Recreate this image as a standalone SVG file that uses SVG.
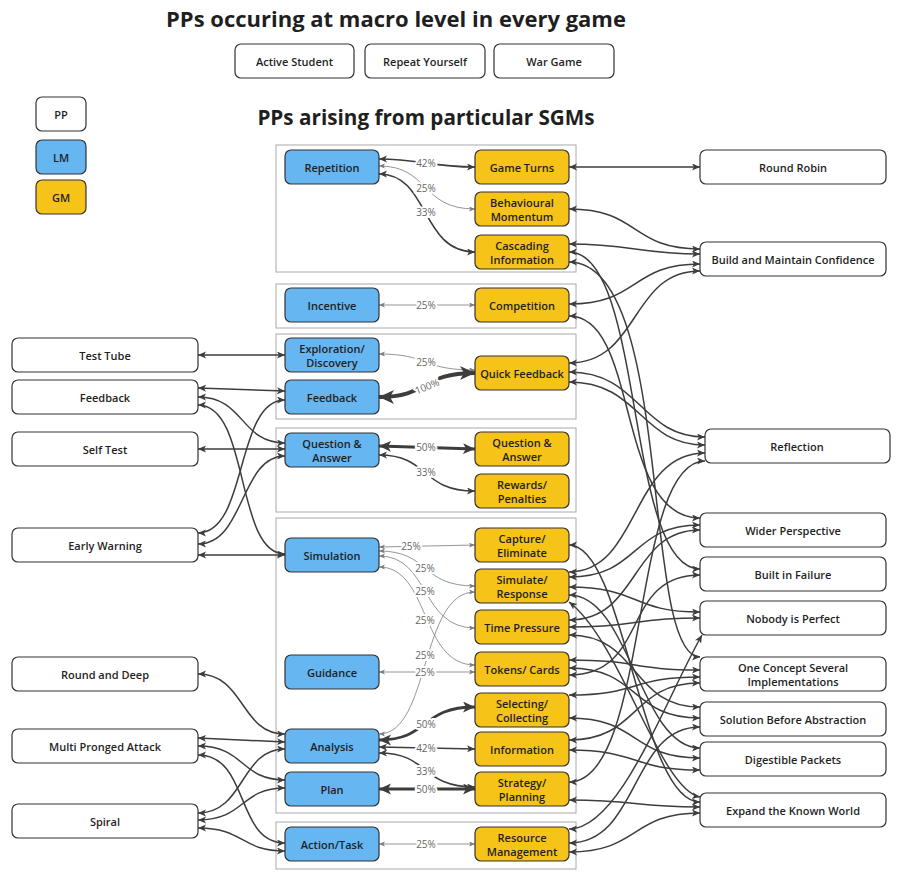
<svg xmlns="http://www.w3.org/2000/svg" width="899" height="881" viewBox="0 0 899 881">
<defs>
<style>
text{font-family:"Open Sans","Noto Sans","Liberation Sans",sans-serif;font-weight:600;fill:#1f1f1f;text-anchor:middle;dominant-baseline:central}
.ttl{font-size:22px;font-weight:700}
.ttl2{font-size:20.7px;font-weight:700}
.n{font-size:11px}
.pp{fill:#fff;stroke:#333;stroke-width:1.2}
.lm{fill:#66b6f2;stroke:#333;stroke-width:1.2}
.gm{fill:#f6c318;stroke:#333;stroke-width:1.2}
.grp{fill:none;stroke:#aaa;stroke-width:1}
.c{fill:none;stroke:#3d3d3d;stroke-width:1.5;marker-start:url(#ad);marker-end:url(#ad)}
.t{fill:none;stroke:#7a7a7a;stroke-width:0.8;marker-start:url(#at);marker-end:url(#at)}
.m{fill:none;stroke:#3d3d3d;stroke-width:1.6;marker-start:url(#ad);marker-end:url(#ad)}
.h{fill:none;stroke:#3d3d3d;stroke-width:2.8;marker-start:url(#ah);marker-end:url(#ah)}
.x{fill:none;stroke:#3d3d3d;stroke-width:4;marker-start:url(#ax);marker-end:url(#ax)}
.lb{font-size:10px;font-weight:400;fill:#666;stroke:#fff;stroke-width:4;paint-order:stroke}
</style>
<marker id="ad" markerUnits="userSpaceOnUse" markerWidth="9" markerHeight="8" refX="8" refY="3.5" orient="auto-start-reverse"><path d="M0,0 L8,3.5 L0,7 L2,3.5 z" fill="#3d3d3d"/></marker>
<marker id="at" markerUnits="userSpaceOnUse" markerWidth="7" markerHeight="6" refX="6" refY="2.5" orient="auto-start-reverse"><path d="M0,0 L6,2.5 L0,5 L1.5,2.5 z" fill="#7a7a7a"/></marker>
<marker id="ah" markerUnits="userSpaceOnUse" markerWidth="13" markerHeight="12" refX="12" refY="5.5" orient="auto-start-reverse"><path d="M0,0 L12,5.5 L0,11 L3,5.5 z" fill="#3d3d3d"/></marker>
<marker id="ax" markerUnits="userSpaceOnUse" markerWidth="16" markerHeight="15" refX="15" refY="7" orient="auto-start-reverse"><path d="M0,0 L15,7 L0,14 L4,7 z" fill="#3d3d3d"/></marker>
</defs>
<rect width="899" height="881" fill="#fff"/>

<text class="ttl" x="396" y="18">PPs occuring at macro level in every game</text>
<text class="ttl2" x="426" y="117">PPs arising from particular SGMs</text>

<g id="macro">
<g id="active-student"><rect class="pp" x="235" y="44" width="119" height="34" rx="6"/><text class="n" x="294.5" y="61">Active Student</text></g>
<g id="repeat-yourself"><rect class="pp" x="365" y="44" width="120" height="34" rx="6"/><text class="n" x="425" y="61">Repeat Yourself</text></g>
<g id="war-game"><rect class="pp" x="494" y="44" width="120" height="34" rx="6"/><text class="n" x="554" y="61">War Game</text></g>
</g>

<g id="legend">
<g id="legend-pp"><rect class="pp" x="36" y="97" width="50" height="34" rx="6"/><text class="n" x="61" y="114">PP</text></g>
<g id="legend-lm"><rect class="lm" x="36" y="140" width="50" height="34" rx="6"/><text class="n" x="61" y="157">LM</text></g>
<g id="legend-gm"><rect class="gm" x="36" y="180" width="50" height="34" rx="6"/><text class="n" x="61" y="197">GM</text></g>
</g>

<g id="groups">
<rect class="grp" x="276" y="145" width="300" height="127"/>
<rect class="grp" x="276" y="284" width="300" height="44"/>
<rect class="grp" x="276" y="334" width="300" height="85"/>
<rect class="grp" x="276" y="428" width="300" height="84"/>
<rect class="grp" x="276" y="518" width="300" height="295"/>
<rect class="grp" x="276" y="822" width="300" height="47"/>
</g>

<g id="connectors">
<!-- LM - GM -->
<path class="m" d="M379,159 C420,159 430,167 475,167"/>
<path class="t" d="M379,166 C430,166 420,209 475,209"/>
<path class="m" d="M379,174 C430,174 420,252 475,252"/>
<path class="t" d="M379,305 L475,305"/>
<path class="t" d="M379,354 C430,354 420,370 475,370"/>
<path class="x" d="M379,397 C430,397 420,373 475,373"/>
<path class="h" d="M379,446 L475,449"/>
<path class="m" d="M379,455 C430,455 420,491 475,491"/>
<path class="t" d="M379,547 L475,545"/>
<path class="t" d="M379,551 C430,551 420,586 475,586"/>
<path class="t" d="M379,556 C430,556 420,628 475,628"/>
<path class="t" d="M379,567 C430,567 420,665 475,665"/>
<path class="t" d="M379,734 C430,734 420,592 475,592"/>
<path class="t" d="M379,672 L475,672"/>
<path class="h" d="M379,740 C430,740 420,707 475,707"/>
<path class="m" d="M379,747 L475,749"/>
<path class="m" d="M379,753 C430,753 420,787 475,787"/>
<path class="h" d="M379,789 L475,789"/>
<path class="t" d="M379,844 L475,844"/>

<!-- left PP - LM -->
<path class="c" d="M198,355 L285,355"/>
<path class="c" d="M198,388 L285,391"/>
<path class="c" d="M198,397 C245,397 240,443 285,443"/>
<path class="c" d="M198,405 C250,405 235,554 285,554"/>
<path class="c" d="M198,449 L285,449"/>
<path class="c" d="M198,533 C248,533 235,400 285,400"/>
<path class="c" d="M198,544 C245,544 240,456 285,456"/>
<path class="c" d="M198,555 L285,555"/>
<path class="c" d="M198,674 C245,674 240,734 285,734"/>
<path class="c" d="M198,738 L285,742"/>
<path class="c" d="M198,746 C245,746 240,780 285,780"/>
<path class="c" d="M198,755 C250,755 235,843 285,843"/>
<path class="c" d="M198,813 C245,813 240,749 285,749"/>
<path class="c" d="M198,820 C245,820 240,788 285,788"/>
<path class="c" d="M198,828 C245,828 240,851 285,851"/>

<!-- GM - right PP -->
<path class="c" d="M569,167 L700,167"/>
<path class="c" d="M569,209 C640,209 630,249 700,249"/>
<path class="c" d="M569,244 C630,244 640,254 700,254"/>
<path class="c" d="M569,252 C645,252 625,569 700,569"/>
<path class="c" d="M569,262 C675,262 640,657 700,657"/>
<path class="c" d="M569,304 C640,304 630,264 700,264"/>
<path class="c" d="M569,316 C640,316 615,518 700,518"/>
<path class="c" d="M569,363 C640,363 630,271 700,271"/>
<path class="c" d="M569,372 C640,372 640,437 705,437"/>
<path class="c" d="M569,382 C640,382 640,445 705,445"/>

<path class="c" d="M569,545 C625,545 640,802 700,802"/>
<path class="c" d="M569,572 C640,572 630,453 705,453"/>
<path class="c" d="M569,577 C640,577 630,525 700,525"/>
<path class="c" d="M569,587 C640,587 630,612 700,612"/>
<path class="c" d="M569,595 C630,595 640,748 700,748"/>
<path class="c" d="M569,602 C620,640 660,790 700,797"/>
<path class="c" d="M569,620 C640,620 630,530 700,530"/>
<path class="c" d="M569,627 C640,627 630,618 700,618"/>
<path class="c" d="M569,635 C640,635 630,707 700,707"/>
<path class="c" d="M569,660 C640,660 630,670 700,670"/>
<path class="c" d="M569,668 C640,668 630,718 700,718"/>
<path class="c" d="M569,675 C650,675 620,575 700,575"/>
<path class="c" d="M569,695 C640,695 630,677 700,677"/>
<path class="c" d="M569,718 C640,718 630,758 700,758"/>
<path class="c" d="M569,740 C640,740 630,683 700,683"/>
<path class="c" d="M569,750 C640,750 630,770 700,770"/>
<path class="c" d="M569,782 C650,782 630,461 705,461"/>
<path class="c" d="M569,800 C640,800 630,807 700,807"/>
<path class="c" d="M569,829 C620,829 665,700 702,635"/>
<path class="c" d="M569,843 C640,843 630,727 700,727"/>
<path class="c" d="M569,852 C640,852 630,813 700,813"/>

<!-- labels -->
<text class="lb" x="426" y="163">42%</text>
<text class="lb" x="426" y="188">25%</text>
<text class="lb" x="426" y="212">33%</text>
<text class="lb" x="426" y="305">25%</text>
<text class="lb" x="426" y="362">25%</text>
<text class="lb" x="427" y="386" transform="rotate(-22 427 386)">100%</text>
<text class="lb" x="426" y="447">50%</text>
<text class="lb" x="426" y="472">33%</text>
<text class="lb" x="411" y="546">25%</text>
<text class="lb" x="425" y="568">25%</text>
<text class="lb" x="425" y="591">25%</text>
<text class="lb" x="425" y="620">25%</text>
<text class="lb" x="425" y="655">25%</text>
<text class="lb" x="425" y="672">25%</text>
<text class="lb" x="426" y="724">50%</text>
<text class="lb" x="426" y="748">42%</text>
<text class="lb" x="426" y="771">33%</text>
<text class="lb" x="426" y="789">50%</text>
<text class="lb" x="426" y="844">25%</text>
</g>

<g id="lm-nodes">
<g id="lm-repetition"><rect class="lm" x="285" y="150" width="94" height="34" rx="6"/><text class="n" x="332" y="167">Repetition</text></g>
<g id="lm-incentive"><rect class="lm" x="285" y="288" width="94" height="34" rx="6"/><text class="n" x="332" y="305">Incentive</text></g>
<g id="lm-exploration"><rect class="lm" x="285" y="338" width="94" height="34" rx="6"/><text class="n" x="332" y="348">Exploration/</text><text class="n" x="332" y="362">Discovery</text></g>
<g id="lm-feedback"><rect class="lm" x="285" y="380" width="94" height="34" rx="6"/><text class="n" x="332" y="397">Feedback</text></g>
<g id="lm-qa"><rect class="lm" x="285" y="433" width="94" height="34" rx="6"/><text class="n" x="332" y="443">Question &amp;</text><text class="n" x="332" y="457">Answer</text></g>
<g id="lm-simulation"><rect class="lm" x="285" y="538" width="94" height="34" rx="6"/><text class="n" x="332" y="555">Simulation</text></g>
<g id="lm-guidance"><rect class="lm" x="285" y="655" width="94" height="34" rx="6"/><text class="n" x="332" y="672">Guidance</text></g>
<g id="lm-analysis"><rect class="lm" x="285" y="729" width="94" height="34" rx="6"/><text class="n" x="332" y="746">Analysis</text></g>
<g id="lm-plan"><rect class="lm" x="285" y="772" width="94" height="34" rx="6"/><text class="n" x="332" y="789">Plan</text></g>
<g id="lm-action"><rect class="lm" x="285" y="827" width="94" height="34" rx="6"/><text class="n" x="332" y="844">Action/Task</text></g>
</g>

<g id="gm-nodes">
<g id="gm-game-turns"><rect class="gm" x="475" y="150" width="94" height="34" rx="6"/><text class="n" x="522" y="167">Game Turns</text></g>
<g id="gm-behavioural"><rect class="gm" x="475" y="192" width="94" height="34" rx="6"/><text class="n" x="522" y="202">Behavioural</text><text class="n" x="522" y="216">Momentum</text></g>
<g id="gm-cascading"><rect class="gm" x="475" y="235" width="94" height="34" rx="6"/><text class="n" x="522" y="245">Cascading</text><text class="n" x="522" y="259">Information</text></g>
<g id="gm-competition"><rect class="gm" x="475" y="288" width="94" height="34" rx="6"/><text class="n" x="522" y="305">Competition</text></g>
<g id="gm-quick-feedback"><rect class="gm" x="475" y="356" width="94" height="34" rx="6"/><text class="n" x="522" y="373">Quick Feedback</text></g>
<g id="gm-qa"><rect class="gm" x="475" y="432" width="94" height="34" rx="6"/><text class="n" x="522" y="442">Question &amp;</text><text class="n" x="522" y="456">Answer</text></g>
<g id="gm-rewards"><rect class="gm" x="475" y="474" width="94" height="34" rx="6"/><text class="n" x="522" y="484">Rewards/</text><text class="n" x="522" y="498">Penalties</text></g>
<g id="gm-capture"><rect class="gm" x="475" y="528" width="94" height="34" rx="6"/><text class="n" x="522" y="538">Capture/</text><text class="n" x="522" y="552">Eliminate</text></g>
<g id="gm-simulate"><rect class="gm" x="475" y="569" width="94" height="34" rx="6"/><text class="n" x="522" y="579">Simulate/</text><text class="n" x="522" y="593">Response</text></g>
<g id="gm-time-pressure"><rect class="gm" x="475" y="610" width="94" height="34" rx="6"/><text class="n" x="522" y="627">Time Pressure</text></g>
<g id="gm-tokens"><rect class="gm" x="475" y="652" width="94" height="34" rx="6"/><text class="n" x="522" y="669">Tokens/ Cards</text></g>
<g id="gm-selecting"><rect class="gm" x="475" y="693" width="94" height="34" rx="6"/><text class="n" x="522" y="703">Selecting/</text><text class="n" x="522" y="717">Collecting</text></g>
<g id="gm-information"><rect class="gm" x="475" y="732" width="94" height="34" rx="6"/><text class="n" x="522" y="749">Information</text></g>
<g id="gm-strategy"><rect class="gm" x="475" y="772" width="94" height="34" rx="6"/><text class="n" x="522" y="782">Strategy/</text><text class="n" x="522" y="796">Planning</text></g>
<g id="gm-resource"><rect class="gm" x="475" y="827" width="94" height="34" rx="6"/><text class="n" x="522" y="837">Resource</text><text class="n" x="522" y="851">Management</text></g>
</g>

<g id="pp-left">
<g id="pp-test-tube"><rect class="pp" x="12" y="338" width="186" height="34" rx="6"/><text class="n" x="105" y="355">Test Tube</text></g>
<g id="pp-feedback"><rect class="pp" x="12" y="380" width="186" height="34" rx="6"/><text class="n" x="105" y="397">Feedback</text></g>
<g id="pp-self-test"><rect class="pp" x="12" y="432" width="186" height="34" rx="6"/><text class="n" x="105" y="449">Self Test</text></g>
<g id="pp-early-warning"><rect class="pp" x="12" y="528" width="186" height="34" rx="6"/><text class="n" x="105" y="545">Early Warning</text></g>
<g id="pp-round-deep"><rect class="pp" x="12" y="657" width="186" height="34" rx="6"/><text class="n" x="105" y="674">Round and Deep</text></g>
<g id="pp-multi-pronged"><rect class="pp" x="12" y="729" width="186" height="34" rx="6"/><text class="n" x="105" y="746">Multi Pronged Attack</text></g>
<g id="pp-spiral"><rect class="pp" x="12" y="804" width="186" height="34" rx="6"/><text class="n" x="105" y="821">Spiral</text></g>
</g>

<g id="pp-right">
<g id="pp-round-robin"><rect class="pp" x="700" y="150" width="186" height="34" rx="6"/><text class="n" x="793" y="167">Round Robin</text></g>
<g id="pp-build-confidence"><rect class="pp" x="700" y="242" width="186" height="34" rx="6"/><text class="n" x="793" y="259">Build and Maintain Confidence</text></g>
<g id="pp-reflection"><rect class="pp" x="705" y="429" width="185" height="34" rx="6"/><text class="n" x="797" y="446">Reflection</text></g>
<g id="pp-wider"><rect class="pp" x="700" y="513" width="186" height="34" rx="6"/><text class="n" x="793" y="530">Wider Perspective</text></g>
<g id="pp-built-failure"><rect class="pp" x="700" y="557" width="186" height="34" rx="6"/><text class="n" x="793" y="574">Built in Failure</text></g>
<g id="pp-nobody"><rect class="pp" x="700" y="601" width="186" height="34" rx="6"/><text class="n" x="793" y="618">Nobody is Perfect</text></g>
<g id="pp-one-concept"><rect class="pp" x="700" y="657" width="186" height="34" rx="6"/><text class="n" x="793" y="667">One Concept Several</text><text class="n" x="793" y="681">Implementations</text></g>
<g id="pp-solution"><rect class="pp" x="700" y="702" width="186" height="34" rx="6"/><text class="n" x="793" y="719">Solution Before Abstraction</text></g>
<g id="pp-digestible"><rect class="pp" x="700" y="742" width="186" height="34" rx="6"/><text class="n" x="793" y="759">Digestible Packets</text></g>
<g id="pp-expand"><rect class="pp" x="700" y="793" width="186" height="34" rx="6"/><text class="n" x="793" y="810">Expand the Known World</text></g>
</g>
</svg>
